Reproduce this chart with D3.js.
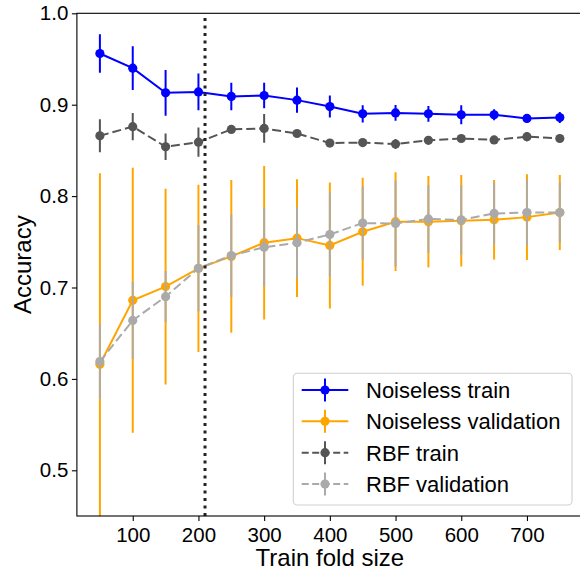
<!DOCTYPE html>
<html>
<head>
<meta charset="utf-8">
<script src="https://cdn.jsdelivr.net/npm/d3@7"></script>
<style>
  html, body { margin: 0; padding: 0; background: #fff; }
  svg { display: block; font-family: "Liberation Sans", Arial, sans-serif; }
</style>
</head>
<body>
<svg id="chart" width="580" height="569"></svg>
<script>
// ---- data ----
const trainSizes = [50, 100, 150, 200, 250, 300, 350, 400, 450, 500, 550, 600, 650, 700, 750];
const noiselessTrain    = [0.956, 0.940, 0.913, 0.914, 0.909, 0.910, 0.905, 0.898, 0.890, 0.891, 0.890, 0.889, 0.889, 0.885, 0.886];
const noiselessTrainErr = [0.021, 0.024, 0.025, 0.020, 0.015, 0.014, 0.0137, 0.012, 0.0095, 0.0086, 0.0087, 0.0105, 0.006, 0.0046, 0.006];
const noiselessVal      = [0.616, 0.686, 0.701, 0.721, 0.734, 0.749, 0.754, 0.746, 0.761, 0.772, 0.772, 0.773, 0.774, 0.777, 0.782];
const noiselessValErr   = [0.209, 0.145, 0.107, 0.0915, 0.0835, 0.084, 0.0645, 0.069, 0.059, 0.054, 0.050, 0.050, 0.0435, 0.047, 0.041];
const rbfTrain          = [0.866, 0.876, 0.854, 0.859, 0.873, 0.874, 0.8685, 0.858, 0.8586, 0.857, 0.861, 0.863, 0.8615, 0.865, 0.863];
const rbfTrainErr       = [0.018, 0.015, 0.0146, 0.016, 0.003, 0.0157, 0.003, 0.002, 0.002, 0.0055, 0.003, 0.003, 0.003, 0.005, 0.003];
const rbfVal            = [0.619, 0.664, 0.690, 0.721, 0.735, 0.744, 0.749, 0.758, 0.7705, 0.770, 0.775, 0.774, 0.781, 0.782, 0.782];
const rbfValErr         = [0.041, 0.042, 0.028, 0.047, 0.045, 0.043, 0.039, 0.046, 0.040, 0.047, 0.037, 0.038, 0.034, 0.036, 0.033];
const xTicks = [100, 200, 300, 400, 500, 600, 700];
const yTicks = [0.5, 0.6, 0.7, 0.8, 0.9, 1.0];
const cutoff = 210;
const xLabel = "Train fold size";
const yLabel = "Accuracy";
const seriesNames = ["Noiseless train", "Noiseless validation", "RBF train", "RBF validation"];

// ---- layout ----
const L = 76.9, T = 13.3, R = 582.8, B = 516;
const svg = d3.select("#chart");
const x = d3.scaleLinear().domain([15, 785]).range([L, R]);
const y = d3.scaleLinear().domain([0.45, 1.0]).range([B, T]);

const series = [
  {name: seriesNames[0], vals: noiselessTrain, errs: noiselessTrainErr, color: "#0000ff", dash: null, barOpacity: 1},
  {name: seriesNames[1], vals: noiselessVal, errs: noiselessValErr, color: "#ffa500", dash: null, barOpacity: 1},
  {name: seriesNames[2], vals: rbfTrain, errs: rbfTrainErr, color: "#555555", dash: "9,4", barOpacity: 1},
  {name: seriesNames[3], vals: rbfVal, errs: rbfValErr, color: "#aaaaaa", dash: "9,4", barOpacity: 0.92}
];

svg.append("defs").append("clipPath").attr("id", "clip")
  .append("rect").attr("x", L).attr("y", T).attr("width", R - L).attr("height", B - T);

const plot = svg.append("g").attr("clip-path", "url(#clip)");

series.forEach(s => {
  const g = plot.append("g");
  const pts = trainSizes.map((t, i) => ({t, v: s.vals[i], e: s.errs[i]}));
  g.selectAll("line.err").data(pts).enter().append("line")
    .attr("x1", d => x(d.t)).attr("x2", d => x(d.t))
    .attr("y1", d => y(d.v - d.e)).attr("y2", d => y(d.v + d.e))
    .attr("stroke", s.color).attr("stroke-opacity", s.barOpacity).attr("stroke-width", 2);
  g.append("path").datum(pts)
    .attr("d", d3.line().x(d => x(d.t)).y(d => y(d.v)))
    .attr("fill", "none").attr("stroke", s.color).attr("stroke-width", 2)
    .attr("stroke-dasharray", s.dash);
  g.selectAll("circle").data(pts).enter().append("circle")
    .attr("cx", d => x(d.t)).attr("cy", d => y(d.v)).attr("r", 4.6)
    .attr("fill", s.color);
});

// cutoff dotted line
plot.append("line")
  .attr("x1", x(cutoff)).attr("x2", x(cutoff)).attr("y1", B).attr("y2", T)
  .attr("stroke", "#222").attr("stroke-width", 3).attr("stroke-dasharray", "3,4.5");

// axes
const xAxis = svg.append("g").attr("transform", `translate(0,${B})`)
  .call(d3.axisBottom(x).tickValues(xTicks).tickSize(5).tickPadding(6).tickSizeOuter(0));
const yAxis = svg.append("g").attr("transform", `translate(${L},0)`)
  .call(d3.axisLeft(y).tickValues(yTicks).tickFormat(d3.format(".1f")).tickSize(5).tickPadding(3.6).tickSizeOuter(0));
[xAxis, yAxis].forEach(a => {
  a.select(".domain").remove();
  a.selectAll(".tick line").attr("stroke", "#000").attr("stroke-width", 1.1);
  a.selectAll(".tick text").attr("font-size", 20.5).attr("fill", "#000")
    .attr("font-family", '"Liberation Sans", Arial, sans-serif');
});

// spines
const spines = svg.append("g").attr("stroke", "#000").attr("stroke-width", 1.1).attr("fill", "none");
spines.append("rect").attr("x", L).attr("y", T).attr("width", R - L).attr("height", B - T);

// axis labels
svg.append("text").attr("x", (L + R) / 2).attr("y", 565.5).attr("text-anchor", "middle")
  .attr("font-size", 24).text(xLabel);
svg.append("text").attr("transform", `translate(31,${(T + B) / 2}) rotate(-90)`)
  .attr("text-anchor", "middle").attr("font-size", 24).text(yLabel);

// legend
const leg = svg.append("g");
leg.append("rect").attr("x", 293.3).attr("y", 373.3).attr("width", 278.7).attr("height", 131.7)
  .attr("rx", 4).attr("fill", "#fff").attr("fill-opacity", 0.8).attr("stroke", "#d0d0d0").attr("stroke-width", 1.1);
const rowY = [390, 421.3, 452.7, 484];
series.forEach((s, i) => {
  const g = leg.append("g").attr("transform", `translate(0,${rowY[i]})`);
  g.append("line").attr("x1", 325).attr("x2", 325).attr("y1", -11.5).attr("y2", 11.5)
    .attr("stroke", s.color).attr("stroke-width", 2);
  g.append("line").attr("x1", 301.7).attr("x2", 348.3).attr("y1", 0).attr("y2", 0)
    .attr("stroke", s.color).attr("stroke-width", 2).attr("stroke-dasharray", s.dash ? "7,3.5" : null);
  g.append("circle").attr("cx", 325).attr("cy", 0).attr("r", 4.6).attr("fill", s.color);
  g.append("text").attr("x", 366).attr("y", 8).attr("font-size", 22).text(s.name);
});
</script>
</body>
</html>
